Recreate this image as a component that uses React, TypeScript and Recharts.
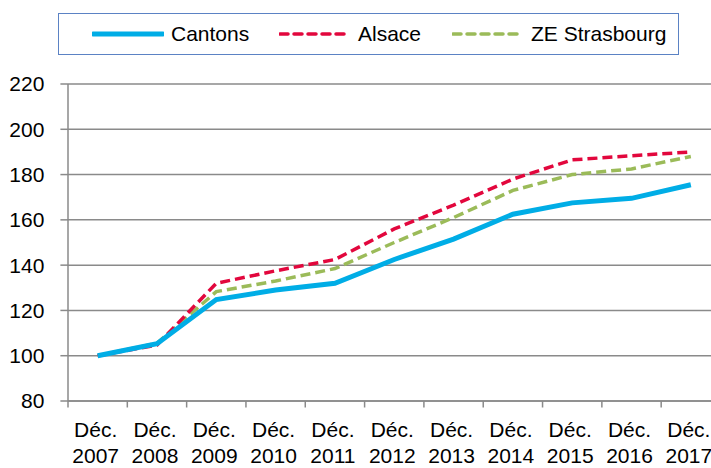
import React from "react";
import {
  LineChart,
  Line,
  XAxis,
  YAxis,
  CartesianGrid,
} from "recharts";

const periods = [
  "Déc. 2007",
  "Déc. 2008",
  "Déc. 2009",
  "Déc. 2010",
  "Déc. 2011",
  "Déc. 2012",
  "Déc. 2013",
  "Déc. 2014",
  "Déc. 2015",
  "Déc. 2016",
  "Déc. 2017",
];
const cantons = [100, 105.3, 124.8, 129, 132, 142.5, 151.5, 162.5, 167.5, 169.5, 175.5];
const alsace = [100, 104.7, 132, 137.5, 142.5, 156, 166.5, 178, 186.5, 188.3, 190];
const zeStrasbourg = [100, 105.5, 128.3, 133, 138.5, 150, 161, 173, 180, 182.5, 188];
const yTicks = [80, 100, 120, 140, 160, 180, 200, 220];

const FONT = "'Liberation Sans', Arial, sans-serif";
const GRID = "#8a8a8a";

const CHART_W = 722;
const CHART_H = 468;
const MARGIN = { top: 84, right: 1.5, left: 0, bottom: 0 };
const Y_AXIS_W = 68;
const BAND = (CHART_W - MARGIN.left - MARGIN.right - Y_AXIS_W) / periods.length;

const series = [
  { key: "cantons", name: "Cantons", color: "#00ade6", width: 5, dash: undefined as string | undefined },
  { key: "alsace", name: "Alsace", color: "#e2073d", width: 3.5, dash: "10 5" },
  { key: "ze", name: "ZE Strasbourg", color: "#9bbb59", width: 3.5, dash: "10 5" },
];

const data = periods.map((label, i) => ({
  label,
  cantons: cantons[i],
  alsace: alsace[i],
  ze: zeStrasbourg[i],
}));

// label on two lines + Excel-style tick mark on the category boundary
const PeriodTick = (props: any) => {
  const { x, y, payload } = props;
  const [month, year] = String(payload.value).split(" ");
  const edge = x - BAND / 2;
  return (
    <g>
      <line x1={edge} y1={y} x2={edge} y2={y + 6.5} stroke={GRID} strokeWidth={1.5} />
      <text x={x - 2} y={y + 36} textAnchor="middle" fontSize={21} fontFamily={FONT} fill="#000">
        {month}
      </text>
      <text x={x - 2} y={y + 62} textAnchor="middle" fontSize={21} fontFamily={FONT} fill="#000">
        {year}
      </text>
    </g>
  );
};

function LegendBox() {
  return (
    <div
      style={{
        position: "absolute",
        left: 58,
        top: 13,
        width: 621,
        height: 42,
        border: "1.5px solid #5b82c4",
        boxSizing: "border-box",
        fontFamily: FONT,
        fontSize: 21,
        color: "#000",
      }}
    >
      {series.map((s, i) => {
        const starts = [33, 220, 393];
        return (
          <div
            key={s.key}
            style={{
              position: "absolute",
              left: starts[i],
              top: 0,
              height: 40,
              display: "flex",
              alignItems: "center",
              whiteSpace: "nowrap",
            }}
          >
            <svg width={72} height={10} style={{ marginRight: 7 }}>
              <line
                x1={1}
                y1={5}
                x2={71}
                y2={5}
                stroke={s.color}
                strokeWidth={s.width}
                strokeDasharray={s.dash ? "8 6" : undefined}
                strokeLinecap="round"
              />
            </svg>
            <span>{s.name}</span>
          </div>
        );
      })}
    </div>
  );
}

export default function App() {
  return (
    <div
      style={{
        position: "absolute",
        left: 0,
        top: 0,
        width: 711,
        height: 468,
        overflow: "hidden",
        background: "#fff",
      }}
    >
      <LineChart width={CHART_W} height={CHART_H} data={data} margin={MARGIN}>
        <CartesianGrid vertical={false} stroke={GRID} strokeWidth={1.5} />
        <XAxis
          dataKey="label"
          scale="band"
          height={67}
          interval={0}
          axisLine={{ stroke: GRID, strokeWidth: 1.5 }}
          tickLine={false}
          tickSize={0}
          tickMargin={0}
          tick={<PeriodTick />}
        />
        <YAxis
          domain={[80, 220]}
          ticks={yTicks}
          width={Y_AXIS_W}
          interval={0}
          axisLine={{ stroke: GRID, strokeWidth: 1.5 }}
          tickLine={{ stroke: GRID, strokeWidth: 1.5 }}
          tickSize={7.6}
          tickMargin={16}
          tick={{ fill: "#000", fontSize: 21, fontFamily: FONT }}
        />
        {[...series].reverse().map((s) => (
          <Line
            key={s.key}
            dataKey={s.key}
            name={s.name}
            type="linear"
            stroke={s.color}
            strokeWidth={s.width}
            strokeDasharray={s.dash}
            dot={false}
            activeDot={false}
            isAnimationActive={false}
          />
        ))}
      </LineChart>
      <LegendBox />
    </div>
  );
}
